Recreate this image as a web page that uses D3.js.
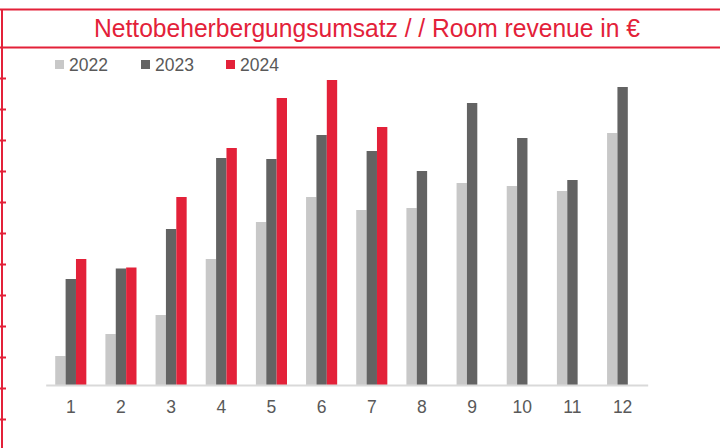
<!DOCTYPE html>
<html><head><meta charset="utf-8">
<script src="https://cdn.jsdelivr.net/npm/d3@7"></script>
<style>body{margin:0;background:#fff}svg{display:block}text{font-family:'Liberation Sans',Arial,sans-serif}</style>
</head><body>
<svg id="c" width="720" height="448"></svg>
<script>
const months = ["1","2","3","4","5","6","7","8","9","10","11","12"];
const seriesNames = ["2022","2023","2024"];
const v2022 = [29, 51, 70, 126, 163, 188, 175, 177, 202, 199, 194, 252];
const v2023 = [106, 116.5, 156, 227, 226, 250, 234, 214, 282, 247, 205, 298];
const v2024 = [126, 117.5, 188, 237, 287, 305, 258];
const colors = ["#c8c8c8", "#636363", "#e32139"];
const title = "Nettobeherbergungsumsatz / / Room revenue in €";

const svg = d3.select("#c");
const red = "#e32139";
const FONT = "'Liberation Sans', Arial, sans-serif";
const W = 720, H = 448;
const baseY = 385, topY = 75;

// frame
svg.append("line").attr("x1",0).attr("x2",W).attr("y1",9.5).attr("y2",9.5).attr("stroke",red).attr("stroke-width",2);
svg.append("line").attr("x1",0).attr("x2",W).attr("y1",47.5).attr("y2",47.5).attr("stroke",red).attr("stroke-width",2);
svg.append("line").attr("x1",2).attr("x2",2).attr("y1",9).attr("y2",H).attr("stroke",red).attr("stroke-width",2);
const tickScale = d3.scaleLinear().domain([0,11]).range([78,419]);
svg.append("g").selectAll("line").data(d3.range(12)).join("line")
  .attr("x1",0).attr("x2",6).attr("y1",d=>Math.round(tickScale(d))+0.5).attr("y2",d=>Math.round(tickScale(d))+0.5)
  .attr("stroke",red).attr("stroke-width",2);

// title
const t = svg.append("text").attr("x",367).attr("y",37).attr("text-anchor","middle")
  .style("font-family",FONT).attr("font-size",26).attr("fill",red).text(title);
t.attr("textLength",546).attr("lengthAdjust","spacingAndGlyphs");

// scales
const x = d3.scaleBand().domain(months).range([45.7,647.7]).paddingInner(0.38).paddingOuter(0.19);
const xs = d3.scaleBand().domain(seriesNames).range([0,x.bandwidth()]);
const y = d3.scaleLinear().domain([0,310]).range([baseY, topY]);

const data = [v2022, v2023, v2024];
const g = svg.append("g");
data.forEach((arr, si) => {
  g.selectAll(null).data(arr).join("rect")
    .attr("x",(d,i)=>x(months[i]) + xs(seriesNames[si]))
    .attr("width",xs.bandwidth())
    .attr("y",d=>y(d))
    .attr("height",d=>y(0)-y(d))
    .attr("fill",colors[si]);
});

// x axis
const ax = svg.append("g").attr("transform",`translate(0,${baseY})`).call(d3.axisBottom(x).tickSize(0).tickPadding(16));
ax.attr("font-family",null).attr("font-size",null);
ax.select(".domain").attr("stroke","#d9d9d9").attr("stroke-width",2);
ax.selectAll("text").style("font-family",FONT).style("font-size","17.5px").attr("fill","#595959");

// legend
const legX = [55, 141, 226];
const lg = svg.append("g");
seriesNames.forEach((s,i)=>{
  lg.append("rect").attr("x",legX[i]).attr("y",60).attr("width",9).attr("height",9).attr("fill",colors[i]);
  lg.append("text").attr("x",legX[i]+14).attr("y",70.7).style("font-family",FONT)
    .style("font-size","17.5px").attr("fill","#595959").text(s);
});
</script>
</body></html>
